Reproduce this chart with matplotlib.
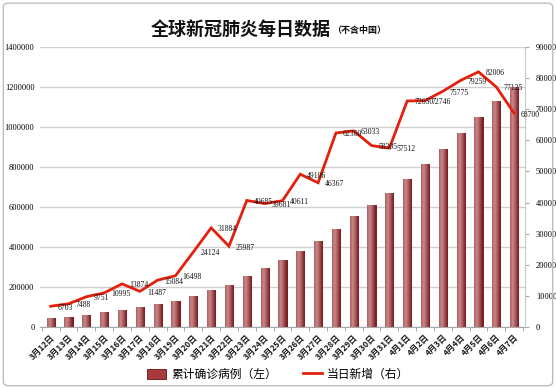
#!/usr/bin/env python3
"""Global daily COVID-19 data chart (excluding China)."""

import numpy as np
import matplotlib
matplotlib.use('Agg')
import matplotlib.pyplot as plt
import matplotlib.patches as mpatches
from matplotlib.lines import Line2D

CJK = ['Noto Sans CJK SC', 'DejaVu Sans']
NUM_FONT = 'Liberation Serif'
LINE_RED = '#E3200B'
BAR_DARK = '#7E1418'
GRID = '#CFCFCF'

dates = ['3月12日', '3月13日', '3月14日', '3月15日', '3月16日', '3月17日', '3月18日',
         '3月19日', '3月20日', '3月21日', '3月22日', '3月23日', '3月24日', '3月25日',
         '3月26日', '3月27日', '3月28日', '3月29日', '3月30日', '3月31日',
         '4月1日', '4月2日', '4月3日', '4月4日', '4月5日', '4月6日', '4月7日']

cumulative = [45000, 52500, 62000, 73000, 87000, 98500, 113500, 130000, 154000,
              186000, 212000, 253000, 293000, 333000, 382000, 429000, 491000,
              554000, 612000, 670000, 742000, 815000, 891000, 970000, 1052000,
              1129000, 1198000]

daily_new = [6703, 7488, 9751, 10995, 13874, 11487, 15084, 16498, 24124, 31884,
             25987, 40685, 39681, 40611, 49106, 46367, 62360, 63033, 58305, 57512,
             72650, 72746, 75775, 79259, 82006, 77125, 68700]

left_ticks = [0, 200000, 400000, 600000, 800000, 1000000, 1200000, 1400000]
right_ticks = [0, 10000, 20000, 30000, 40000, 50000, 60000, 70000, 80000, 90000]


def generate():
    fig = plt.figure(figsize=(5.56, 3.88), dpi=100)
    fig.patch.set_facecolor('white')

    # outer frame
    frame = mpatches.FancyBboxPatch((0.006, 0.006), 0.988, 0.986,
                                    boxstyle='round,pad=0,rounding_size=0.01',
                                    transform=fig.transFigure, facecolor='none',
                                    edgecolor='#BDBDBD', linewidth=1.0)
    fig.patches.append(frame)

    ax = fig.add_axes([0.072, 0.157, 0.872, 0.722])
    ax2 = ax.twinx()

    x = np.arange(len(dates))
    bars = ax.bar(x, cumulative, width=0.46, color=BAR_DARK, edgecolor='#6A0F12',
                  linewidth=0.6, zorder=2)

    # cylinder-like horizontal gradient on each bar
    grad = np.linspace(0, 1, 64)
    prof = np.interp(grad, [0, 0.3, 0.55, 1.0], [0.55, 0.85, 0.6, 0.05])
    light = np.array([0.85, 0.62, 0.62])
    dark = np.array([0.45, 0.06, 0.08])
    img = (dark[None, :] + (light - dark)[None, :] * prof[:, None])[None, :, :]
    for b in bars:
        bx, by = b.get_x(), b.get_y()
        im = ax.imshow(img, extent=[bx, bx + b.get_width(), by, by + b.get_height()],
                       aspect='auto', zorder=2.5, interpolation='bilinear')
        im.set_clip_path(b)

    ax.set_xlim(-0.6, len(dates) - 0.4)
    ax.set_ylim(0, 1400000)
    ax.set_yticks(left_ticks)
    ax.set_yticklabels([str(v) for v in left_ticks], fontsize=6, family=NUM_FONT)
    ax.yaxis.grid(True, color=GRID, linewidth=1.0, zorder=0)
    ax.set_axisbelow(True)
    ax.tick_params(axis='y', length=0, pad=4)
    ax.set_xticks(x)
    ax.set_xticklabels(dates, rotation=45, ha='right', rotation_mode='anchor',
                       fontsize=6, family=CJK, fontweight='bold', color='#1a1a1a')
    ax.set_xticks(np.arange(-0.5, len(dates), 1.0), minor=True)
    ax.tick_params(axis='x', which='major', length=0, pad=4)
    ax.tick_params(axis='x', which='minor', length=3, color='#9A9A9A')

    for side in ['top', 'left', 'right']:
        ax.spines[side].set_visible(False)
    ax.spines['bottom'].set_color('#A8A8A8')

    ax2.plot(x, daily_new, color=LINE_RED, linewidth=2.0, zorder=5,
             solid_joinstyle='miter')
    ax2.set_ylim(0, 90000)
    ax2.set_yticks(right_ticks)
    ax2.set_yticklabels([str(v) for v in right_ticks], fontsize=6, family=NUM_FONT)
    ax2.tick_params(axis='y', length=3, color='#A8A8A8', pad=5)
    for side in ['top', 'left', 'bottom']:
        ax2.spines[side].set_visible(False)
    ax2.spines['right'].set_color('#C8C8C8')

    for xi, v in zip(x, daily_new):
        ax2.annotate(str(v), (xi, v), xytext=(5, -1), textcoords='offset points',
                     ha='left', va='center', fontsize=5.5, family=NUM_FONT,
                     color='#111111', zorder=6)

    # title
    fig.text(0.595, 0.925, '全球新冠肺炎每日数据', fontsize=13, family=CJK,
             fontweight='bold', ha='right', va='center', color='#111111')
    fig.text(0.598, 0.922, '（不含中国）', fontsize=6.5, family=CJK,
             fontweight='bold', ha='left', va='center', color='#111111')

    # legend
    handles = [mpatches.Patch(facecolor='#A8393D', edgecolor='#6A0F12', linewidth=0.6),
               Line2D([0], [0], color=LINE_RED, linewidth=2)]
    fig.legend(handles, ['累计确诊病例（左）', '当日新增（右）'], loc='center',
               bbox_to_anchor=(0.5, 0.035), ncol=2, frameon=False,
               prop={'family': CJK, 'size': 8.5}, handlelength=1.6,
               handleheight=0.9, columnspacing=2.2, handletextpad=0.4)

    fig.savefig('out.png', dpi=100, facecolor='white')
    plt.close(fig)


if __name__ == '__main__':
    generate()
